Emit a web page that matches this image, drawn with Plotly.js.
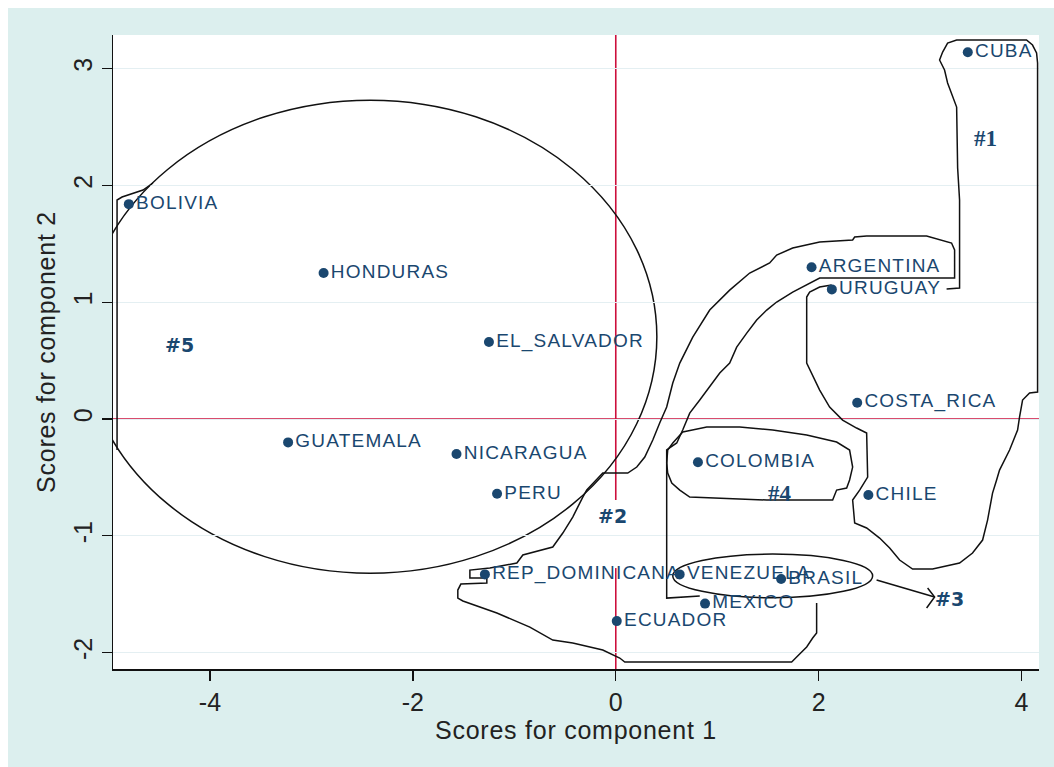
<!DOCTYPE html>
<html><head><meta charset="utf-8">
<script src="https://cdn.plot.ly/plotly-3.0.1.min.js"></script>
<style>
html,body{margin:0;padding:0;background:#ffffff;overflow:hidden;}
#chart{position:absolute;left:8px;top:8px;width:1046px;height:759px;}
#chart .textpoint text{letter-spacing:1.2px;}
#chart .xtitle, #chart .ytitle{letter-spacing:0.75px;}
</style></head>
<body><div id="chart"></div>
<script>
// ---- data: PCA scores ----
const countries = ["CUBA","BOLIVIA","HONDURAS","EL_SALVADOR","ARGENTINA","URUGUAY","COSTA_RICA",
  "GUATEMALA","NICARAGUA","PERU","COLOMBIA","CHILE","REP_DOMINICANA","VENEZUELA","BRASIL","MEXICO","ECUADOR"];
const pc1 = [3.47,-4.80,-2.88,-1.25,1.93,2.13,2.38,-3.23,-1.57,-1.17,0.81,2.49,-1.29,0.63,1.63,0.88,0.01];
const pc2 = [3.14,1.84,1.25,0.66,1.30,1.11,0.14,-0.20,-0.30,-0.64,-0.37,-0.65,-1.33,-1.33,-1.37,-1.58,-1.73];

const xTicks = [-4,-2,0,2,4];
const yTicks = [-2,-1,0,1,2,3];

// ---- cluster labels ----
const clusterNames = ["#1","#2","#3","#4","#5"];
const clusterX = [3.64,-0.03,3.29,1.62,-4.30];
const clusterY = [2.40,-0.83,-1.54,-0.64,0.63];

// ---- hand-drawn cluster outlines (data units) ----
const outline1 = [[3.261,1.113],[3.389,1.122],[3.389,1.875],[3.370,2.149],[3.360,2.671],[3.320,2.757],[3.271,2.877],
  [3.241,2.988],[3.192,3.074],[3.222,3.142],[3.271,3.219],[3.360,3.245],[4.049,3.245],[4.108,3.202],[4.148,3.134],
  [4.158,3.048],[4.158,0.231],[4.079,0.223],[4.010,0.163],[3.980,0.017],[3.961,-0.094],[3.882,-0.265],[3.783,-0.437],
  [3.754,-0.522],[3.714,-0.634],[3.665,-0.865],[3.616,-1.036],[3.517,-1.147],[3.389,-1.233],[3.123,-1.284],
  [2.926,-1.284],[2.798,-1.207],[2.700,-1.104],[2.601,-1.019],[2.473,-0.933],[2.355,-0.890],[2.335,-0.693],
  [2.404,-0.608],[2.483,-0.497],[2.473,-0.120],[2.374,-0.077],[2.236,-0.009],[2.108,0.103],[2.010,0.248],
  [1.911,0.420],[1.882,0.479],[1.882,1.045],[1.911,1.087],[2.010,1.130],[2.128,1.147]];
const outline2 = [[0.828,-1.515],[0.502,-1.533],[0.502,-0.265],[0.532,-0.248],[0.601,-0.205],[0.660,-0.094],
  [0.729,0.051],[0.828,0.163],[0.926,0.274],[1.025,0.394],[1.123,0.479],[1.192,0.616],[1.291,0.736],[1.389,0.848],
  [1.488,0.933],[1.586,1.002],[1.744,1.087],[1.842,1.130],[1.941,1.173],[2.010,1.207],[3.340,1.207],[3.340,1.447],
  [3.310,1.507],[3.192,1.533],[3.064,1.567],[2.473,1.567],[2.355,1.558],[2.335,1.533],[2.010,1.515],[1.744,1.464],
  [1.586,1.404],[1.517,1.336],[1.320,1.250],[1.123,1.104],[0.926,0.933],[0.759,0.702],[0.631,0.479],[0.562,0.308],
  [0.502,0.103],[0.433,-0.034],[0.365,-0.180],[0.286,-0.325],[0.207,-0.411],[0.118,-0.462],[-0.128,-0.462],
  [-0.286,-0.608],[-0.325,-0.668],[-0.424,-0.839],[-0.522,-0.976],[-0.621,-1.096],[-0.916,-1.164],[-0.975,-1.233],
  [-1.241,-1.276],[-1.438,-1.293],[-1.438,-1.361],[-1.271,-1.361],[-1.271,-1.404],[-1.527,-1.413],[-1.557,-1.464],
  [-1.557,-1.533],[-1.507,-1.558],[-1.172,-1.661],[-0.847,-1.781],[-0.621,-1.892],[-0.424,-1.918],[-0.128,-1.978],
  [0.039,-2.046],[0.089,-2.080],[1.734,-2.080],[1.783,-2.038],[1.882,-1.952],[1.941,-1.875],[1.980,-1.832],[1.980,-1.575]];
const outline4 = [[0.660,-0.111],[0.897,-0.068],[1.222,-0.068],[1.547,-0.094],[1.882,-0.137],[2.177,-0.197],
  [2.305,-0.265],[2.335,-0.411],[2.305,-0.522],[2.276,-0.591],[2.177,-0.608],[2.138,-0.693],[1.488,-0.693],
  [0.897,-0.676],[0.729,-0.668],[0.631,-0.608],[0.552,-0.548],[0.512,-0.462],[0.502,-0.377],[0.512,-0.265],
  [0.562,-0.205],[0.660,-0.111]];
const outline5Edge = [[-4.916,-0.265],[-4.916,1.875],[-4.867,1.901],[-4.759,1.935],[-4.660,1.961],[-4.562,2.021]];
const arrow3 = [[2.571,-1.378],[3.143,-1.524]];
const arrow3Head = [[3.074,-1.447],[3.143,-1.524],[3.064,-1.618]];
// ellipses: [xmin, xmax, ymin, ymax]
const ellipse5 = [-5.245,0.405,-1.32,2.73];
const ellipse3 = [0.562,2.532,-1.53,-1.156];
// red reference lines (vertical x=0 is broken around the "#2" label)
const vRefSegments = [[3.30,-0.693],[-1.276,-2.15]];

const NAVY = "#1a476f";
const INK = "#111111";
const RED = "#cc0f3c";
function lineTrace(pts){
  return {type:"scatter",mode:"lines",x:pts.map(p=>p[0]),y:pts.map(p=>p[1]),
    line:{color:INK,width:1.5},hoverinfo:"skip",showlegend:false,cliponaxis:true};
}
const traces = [outline1,outline2,outline4,outline5Edge,arrow3,arrow3Head].map(lineTrace);
traces.push({
  type:"scatter",mode:"markers+text",x:pc1,y:pc2,text:countries,textposition:"middle right",
  marker:{color:NAVY,size:10,symbol:"circle"},
  textfont:{family:"Liberation Sans, Arial, sans-serif",size:19,color:NAVY},
  cliponaxis:false,showlegend:false,hoverinfo:"text"
});

const shapes = [];
shapes.push({type:"line",xref:"x",yref:"y",x0:-5.2,x1:4.3,y0:0,y1:0,layer:"below",line:{color:RED,width:1.6}});
vRefSegments.forEach(s=>shapes.push({type:"line",xref:"x",yref:"y",x0:0,x1:0,y0:s[0],y1:s[1],layer:"below",line:{color:RED,width:1.6}}));
[ellipse5,ellipse3].forEach(e=>shapes.push({type:"circle",xref:"x",yref:"y",x0:e[0],x1:e[1],y0:e[2],y1:e[3],layer:"below",line:{color:INK,width:1.5},fillcolor:"rgba(0,0,0,0)"}));

const serif = new Set(["#1","#4"]);
const annotations = clusterNames.map((n,i)=>({
  x:clusterX[i],y:clusterY[i],xref:"x",yref:"y",text:n,showarrow:false,
  font:serif.has(n)?{family:"Liberation Serif, Times New Roman, serif",size:23,color:NAVY,weight:"bold"}
                   :{family:"DejaVu Sans, Verdana, sans-serif",size:19,color:NAVY,weight:"bold"}
}));

const axisFont = {family:"Liberation Sans, Arial, sans-serif",size:25,color:"#222"};
const layout = {
  width:1046,height:759,
  paper_bgcolor:"#dcefee",plot_bgcolor:"#ffffff",
  margin:{l:105,r:15,t:27,b:98},
  showlegend:false,
  xaxis:{range:[-4.956,4.172],tickvals:xTicks,ticktext:xTicks.map(String),ticks:"outside",ticklen:10,tickwidth:1.3,tickcolor:"#111",
    showline:true,linecolor:"#111",linewidth:1.5,showgrid:false,zeroline:false,tickfont:axisFont,
    title:{text:"Scores for component 1",font:axisFont,standoff:4}},
  yaxis:{range:[-2.140,3.288],tickvals:yTicks,ticktext:yTicks.map(String),ticks:"outside",ticklen:10,tickwidth:1.3,tickcolor:"#111",
    showline:true,linecolor:"#111",linewidth:1.5,showgrid:true,gridcolor:"#e4eff2",gridwidth:1,zeroline:false,
    tickfont:axisFont,tickangle:-90,title:{text:"Scores for component 2",font:axisFont,standoff:6}},
  shapes:shapes,annotations:annotations
};
Plotly.newPlot("chart",traces,layout,{displayModeBar:false,staticPlot:true});
</script>
</body></html>
